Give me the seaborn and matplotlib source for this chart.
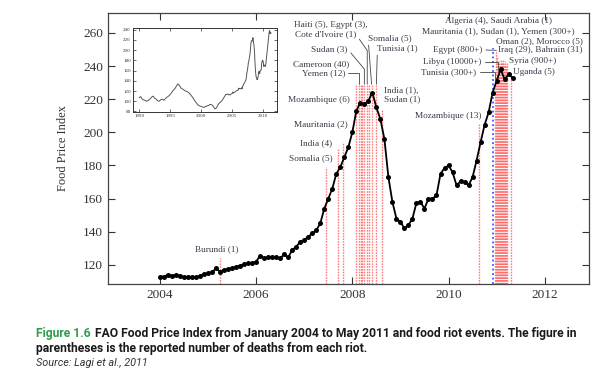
#!/usr/bin/env python3

import numpy as np
import pandas as pd
import matplotlib
matplotlib.use('Agg')
import matplotlib.pyplot as plt
import seaborn as sns

# FAO Food Price Index, monthly, Jan 2004 - May 2011
fpi = [113, 113, 114, 113.5, 114, 113.5, 112.5, 113, 112.5, 112.5, 113.5, 114.5,
       115, 115.5, 118, 116, 117, 117.5, 118, 119, 119.5, 120.5, 121, 121,
       122, 125.6, 124, 125, 124.5, 124.5, 124, 126.4, 124.5, 129, 131, 134,
       135, 137, 139, 141, 145, 154, 160, 166, 175, 179, 185, 191,
       200, 213, 218, 217, 219, 224, 215, 208, 196, 173, 158, 148,
       146, 142, 144, 148, 157.5, 158, 154, 160, 160, 162, 175, 178.5,
       180, 176, 168, 170.5, 170, 168, 173, 183, 194, 204.5, 212, 224,
       231, 238, 232, 235, 233]

# inset: quarterly index 1990 - 2003 (then continues with the monthly series)
fpi_early = [107, 109, 104, 103, 101, 100, 102, 104, 108, 110, 106, 104,
             101, 100, 103, 104, 102, 105, 108, 110, 113, 117, 121, 124,
             129, 134, 131, 126, 124, 122, 120, 119, 117, 114, 110, 106,
             101, 97, 93, 91, 90, 89, 88, 90, 91, 92, 94, 93,
             90, 85, 87, 93, 97, 99, 103, 108]

# food riots: date (decimal year) and height of the marker line
riot_year = [2005.25, 2007.46, 2007.71, 2007.80,
             2008.08, 2008.13, 2008.17, 2008.21, 2008.25, 2008.31, 2008.35, 2008.40, 2008.50,
             2008.62, 2010.63,
             2010.96, 2010.99, 2011.01, 2011.03, 2011.05, 2011.07, 2011.09, 2011.11,
             2011.13, 2011.15, 2011.17, 2011.19, 2011.22, 2011.29]
riot_top = [124, 179, 190, 194,
            229, 229, 229, 229, 229, 229, 229, 229, 229,
            214, 205,
            231, 249.5, 246, 236, 243, 241, 244, 242,
            244, 241, 243, 240, 242, 233]
report_year = 2010.92
report_top = 251

t = 2004 + np.arange(len(fpi)) / 12
df = pd.DataFrame({'year': t, 'fpi': fpi})
t_early = 1990 + np.arange(len(fpi_early)) / 4
df_in = pd.concat([pd.DataFrame({'year': t_early, 'fpi': fpi_early}), df])

sns.set_theme(style='ticks')
plt.rcParams['font.family'] = ['Liberation Serif', 'DejaVu Serif']

fig = plt.figure(figsize=(6.05, 3.76), dpi=100)
ax = fig.add_axes([0.1785, 0.2447, 0.795, 0.7207])

ylo, yhi = 108.5, 272
ax.vlines(riot_year, ylo, riot_top, colors='#ff2a2a', linestyles=(0, (1.2, 0.8)),
          lw=1.0, alpha=0.6, zorder=1)
ax.vlines(report_year, ylo, report_top, colors='#3a5cff', linestyles=(0, (1, 1.5)),
          lw=1.3, zorder=1)

sns.lineplot(data=df, x='year', y='fpi', ax=ax, color='black', lw=1.3,
             marker='o', markersize=3.6, markeredgewidth=0, zorder=3)

ax.set_xlim(2002.92, 2012.92)
ax.set_ylim(ylo, yhi)
ax.set_xticks([2004, 2006, 2008, 2010, 2012])
ax.set_yticks(range(120, 261, 20))
ax.tick_params(direction='in', length=5, width=0.8, top=True, right=True,
               labelsize=9.5, colors='#333333')
for s in ax.spines.values():
    s.set_color('#444444')
    s.set_linewidth(0.9)
ax.set_xlabel('')
ax.set_ylabel('Food Price Index', fontsize=9, color='#333333', labelpad=10)

tkw = dict(fontsize=6.7, color='#3a3a4a')


def label(txt, x, y, ha='center', to=None, rel=(1, 0.5), conn='arc3'):
    if to is None:
        ax.text(x, y, txt, ha=ha, va='center', zorder=4, **tkw)
    else:
        ax.annotate(txt, xy=(riot_year[to], riot_top[to]), xytext=(x, y),
                    ha=ha, va='center', zorder=4,
                    arrowprops=dict(arrowstyle='-', color='#444444', lw=0.6,
                                    shrinkA=0, shrinkB=0, relpos=rel,
                                    connectionstyle=conn), **tkw)


label('Burundi (1)', 2005.19, 129.6)
label('Somalia (5)', 2007.58, 184.6, ha='right')
label('India (4)', 2007.58, 193.6, ha='right')
label('Mauritania (2)', 2007.90, 205.1, ha='right')
label('Mozambique (6)', 2007.94, 219.6, ha='right')
label('Cameroon (40)', 2007.94, 241.3, ha='right')
label('Yemen (12)', 2007.85, 235.9, ha='right', to=5,
      conn='angle,angleA=0,angleB=90,rad=0')
label('Sudan (3)', 2007.90, 250.3, ha='right', to=8,
      conn='angle,angleA=-50,angleB=90,rad=0')
label('Haiti (5), Egypt (3),', 2007.56, 264.9)
label("Cote d'Ivoire (1)", 2007.44, 259.0, to=9,
      conn='angle,angleA=-55,angleB=90,rad=0')
label('Somalia (5)', 2008.33, 257.0, ha='left', to=11, rel=(0, 0.3))
label('Tunisia (1)', 2008.52, 251.0, ha='left', to=12, rel=(0, 0))
label('India (1),\nSudan (1)', 2008.65, 222.6, ha='left')
label('Mozambique (13)', 2010.69, 210.0, ha='right')
label('Algeria (4), Saudi Arabia (1)', 2011.04, 266.9)
label('Mauritania (1), Sudan (1), Yemen (300+)', 2011.04, 261.1)
label('Oman (2), Morocco (5)', 2011.88, 255.2)
label('Iraq (29), Bahrain (31)', 2011.02, 249.7, ha='left')
label('Egypt (800+)', 2010.71, 249.7, ha='right', to=16)
label('Libya (10000+)', 2010.69, 242.5, ha='right', to=18,
      conn='angle,angleA=0,angleB=90,rad=0')
label('Tunisia (300+)', 2010.58, 236.5, ha='right', to=15,
      conn='angle,angleA=0,angleB=90,rad=0')
label('Syria (900+)', 2011.25, 243.1, ha='left')
label('Uganda (5)', 2011.35, 236.5, ha='left')

# inset: long-run index since 1990
axi = fig.add_axes([0.2198, 0.7021, 0.238, 0.2234])
sns.lineplot(data=df_in, x='year', y='fpi', ax=axi, color='#555555', lw=0.7)
axi.set_xlim(1989.0, 2012.3)
axi.set_ylim(79, 243)
axi.set_xticks([1990, 1995, 2000, 2005, 2010])
axi.set_yticks(range(80, 241, 20))
axi.tick_params(direction='in', length=2, width=0.5, top=True, right=True,
                labelsize=3.6, pad=1.5, colors='#333333')
for s in axi.spines.values():
    s.set_color('#333333')
    s.set_linewidth(0.7)
axi.set_xlabel('')
axi.set_ylabel('')

# caption
cap = ['Liberation Sans Narrow', 'Roboto', 'DejaVu Sans']
y1, y2, y3 = 1 - 334 / 376, 1 - 348.5 / 376, 1 - 363 / 376
head = fig.text(36 / 605, y1, 'Figure 1.6', color='#2e9b4e', fontweight='bold',
                fontsize=8.7, family=cap, va='center')
fig.canvas.draw()
x_rest = head.get_window_extent().x1 / fig.bbox.width + 4 / 605
fig.text(x_rest, y1,
         'FAO Food Price Index from January 2004 to May 2011 and food riot events. The figure in',
         color='#1a1a1a', fontweight='bold', fontsize=8.7, family=cap, va='center')
fig.text(36 / 605, y2,
         'parentheses is the reported number of deaths from each riot.',
         color='#1a1a1a', fontweight='bold', fontsize=8.7, family=cap, va='center')
fig.text(36 / 605, y3, 'Source: Lagi et al., 2011', color='#333333',
         style='italic', fontsize=7.8, family=cap, va='center')

fig.savefig('out.png', dpi=100)
